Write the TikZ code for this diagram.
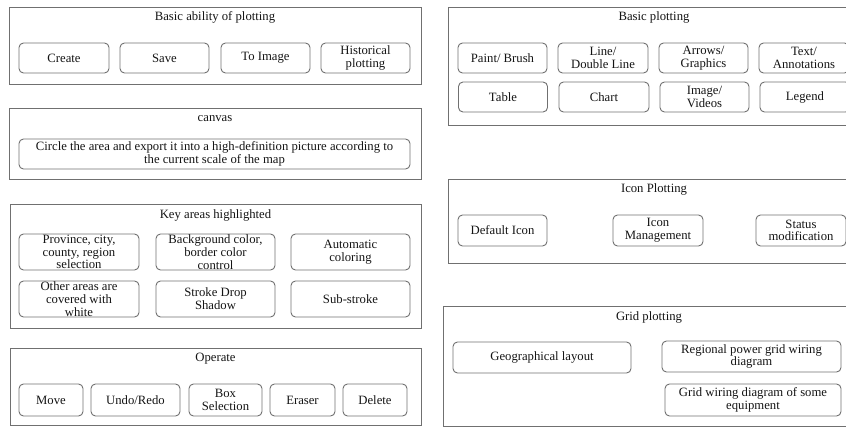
\documentclass[tikz,border=0pt]{standalone}
\usepackage{fontspec}
\setmainfont{Liberation Serif}
\definecolor{edge}{HTML}{707070}
\definecolor{ink}{HTML}{141414}
\tikzset{
  obox/.style={draw=edge, line width=0.9pt, rectangle, inner sep=0pt},
  ibox/.style={draw=edge, line width=0.9pt, rectangle, rounded corners=4.5pt, inner sep=0pt, align=center, text=ink, font=\fontsize{12.7}{12.7}\selectfont},
  ttl/.style={inner sep=0pt, text=ink, font=\fontsize{12.7}{12.7}\selectfont}
}
\begin{document}
\begin{tikzpicture}[x=1pt, y=-1pt]
\useasboundingbox (0,0) rectangle (846,428);
% outer frames
\node[obox, minimum width=412pt, minimum height=77pt] (A) at (215,45.5) {};
\node[obox, minimum width=412pt, minimum height=71pt] (B) at (215,143.5) {};
\node[obox, minimum width=411pt, minimum height=124pt] (C) at (215.5,266) {};
\node[obox, minimum width=411pt, minimum height=77pt] (D) at (215.5,386.5) {};
\node[obox, minimum width=412pt, minimum height=118pt] (E) at (654,66) {};
\node[obox, minimum width=412pt, minimum height=84pt] (F) at (654,221) {};
\node[obox, minimum width=412pt, minimum height=120pt] (G) at (649,366) {};
% titles
\node[ttl] (At) at (215,17) {Basic ability of plotting};
\node[ttl] (Bt) at (215,119) {canvas};
\node[ttl] (Ct) at (215.5,215) {Key areas highlighted};
\node[ttl] (Dt) at (215.5,359) {Operate};
\node[ttl] (Et) at (654,17) {Basic plotting};
\node[ttl] (Ft) at (654,189) {Icon Plotting};
\node[ttl] (Gt) at (649,317) {Grid plotting};
% A
\node[ibox, minimum width=90pt, minimum height=30pt] (A1) at (64,58) {Create};
\node[ibox, minimum width=89pt, minimum height=30pt] (A2) at (164.5,58) {Save};
\node[ibox, minimum width=89pt, minimum height=30pt] (A3) at (265.5,58) {To Image};
\node[ibox, minimum width=89pt, minimum height=30pt] (A4) at (365.5,58) {Historical\\plotting};
% B
\node[ibox, minimum width=391pt, minimum height=30pt] (B1) at (214.5,154) {Circle the area and export it into a high-definition picture according to\\the current scale of the map};
% C
\node[ibox, minimum width=120pt, minimum height=36pt] (C1) at (79,252) {Province, city,\\county, region\\selection};
\node[ibox, minimum width=119pt, minimum height=36pt] (C2) at (215.5,252) {Background color,\\border color\\control};
\node[ibox, minimum width=119pt, minimum height=36pt] (C3) at (350.5,252) {Automatic\\coloring};
\node[ibox, minimum width=120pt, minimum height=36pt] (C4) at (79,299) {Other areas are\\covered with\\white};
\node[ibox, minimum width=119pt, minimum height=36pt] (C5) at (215.5,299) {Stroke Drop\\Shadow};
\node[ibox, minimum width=119pt, minimum height=36pt] (C6) at (350.5,299) {Sub-stroke};
% D
\node[ibox, minimum width=64pt, minimum height=32pt] (D1) at (51,400) {Move};
\node[ibox, minimum width=89pt, minimum height=32pt] (D2) at (135.5,400) {Undo/Redo};
\node[ibox, minimum width=73pt, minimum height=32pt] (D3) at (225.5,400) {Box\\Selection};
\node[ibox, minimum width=65pt, minimum height=32pt] (D4) at (302.5,400) {Eraser};
\node[ibox, minimum width=64pt, minimum height=32pt] (D5) at (375,400) {Delete};
% E
\node[ibox, minimum width=89pt, minimum height=30pt] (E1) at (502.5,58) {Paint/ Brush};
\node[ibox, minimum width=90pt, minimum height=30pt] (E2) at (603,58) {Line/\\Double Line};
\node[ibox, minimum width=89pt, minimum height=30pt] (E3) at (703.5,58) {Arrows/\\Graphics};
\node[ibox, minimum width=90pt, minimum height=30pt] (E4) at (804,58) {Text/\\Annotations};
\node[ibox, minimum width=89pt, minimum height=30pt] (E5) at (503,97) {Table};
\node[ibox, minimum width=90pt, minimum height=30pt] (E6) at (604,97) {Chart};
\node[ibox, minimum width=89pt, minimum height=30pt] (E7) at (704.5,97) {Image/\\Videos};
\node[ibox, minimum width=90pt, minimum height=30pt] (E8) at (805,97) {Legend};
% F
\node[ibox, minimum width=89pt, minimum height=31pt] (F1) at (502.5,230.5) {Default Icon};
\node[ibox, minimum width=90pt, minimum height=31pt] (F2) at (658,230.5) {Icon\\Management};
\node[ibox, minimum width=90pt, minimum height=31pt] (F3) at (801,230.5) {Status\\modification};
% G
\node[ibox, minimum width=178pt, minimum height=31pt] (G1) at (542,357.5) {Geographical layout};
\node[ibox, minimum width=179pt, minimum height=31pt] (G2) at (751.5,356.5) {Regional power grid wiring\\diagram};
\node[ibox, minimum width=176pt, minimum height=32pt] (G3) at (753,400) {Grid wiring diagram of some\\equipment};
\end{tikzpicture}
\end{document}
